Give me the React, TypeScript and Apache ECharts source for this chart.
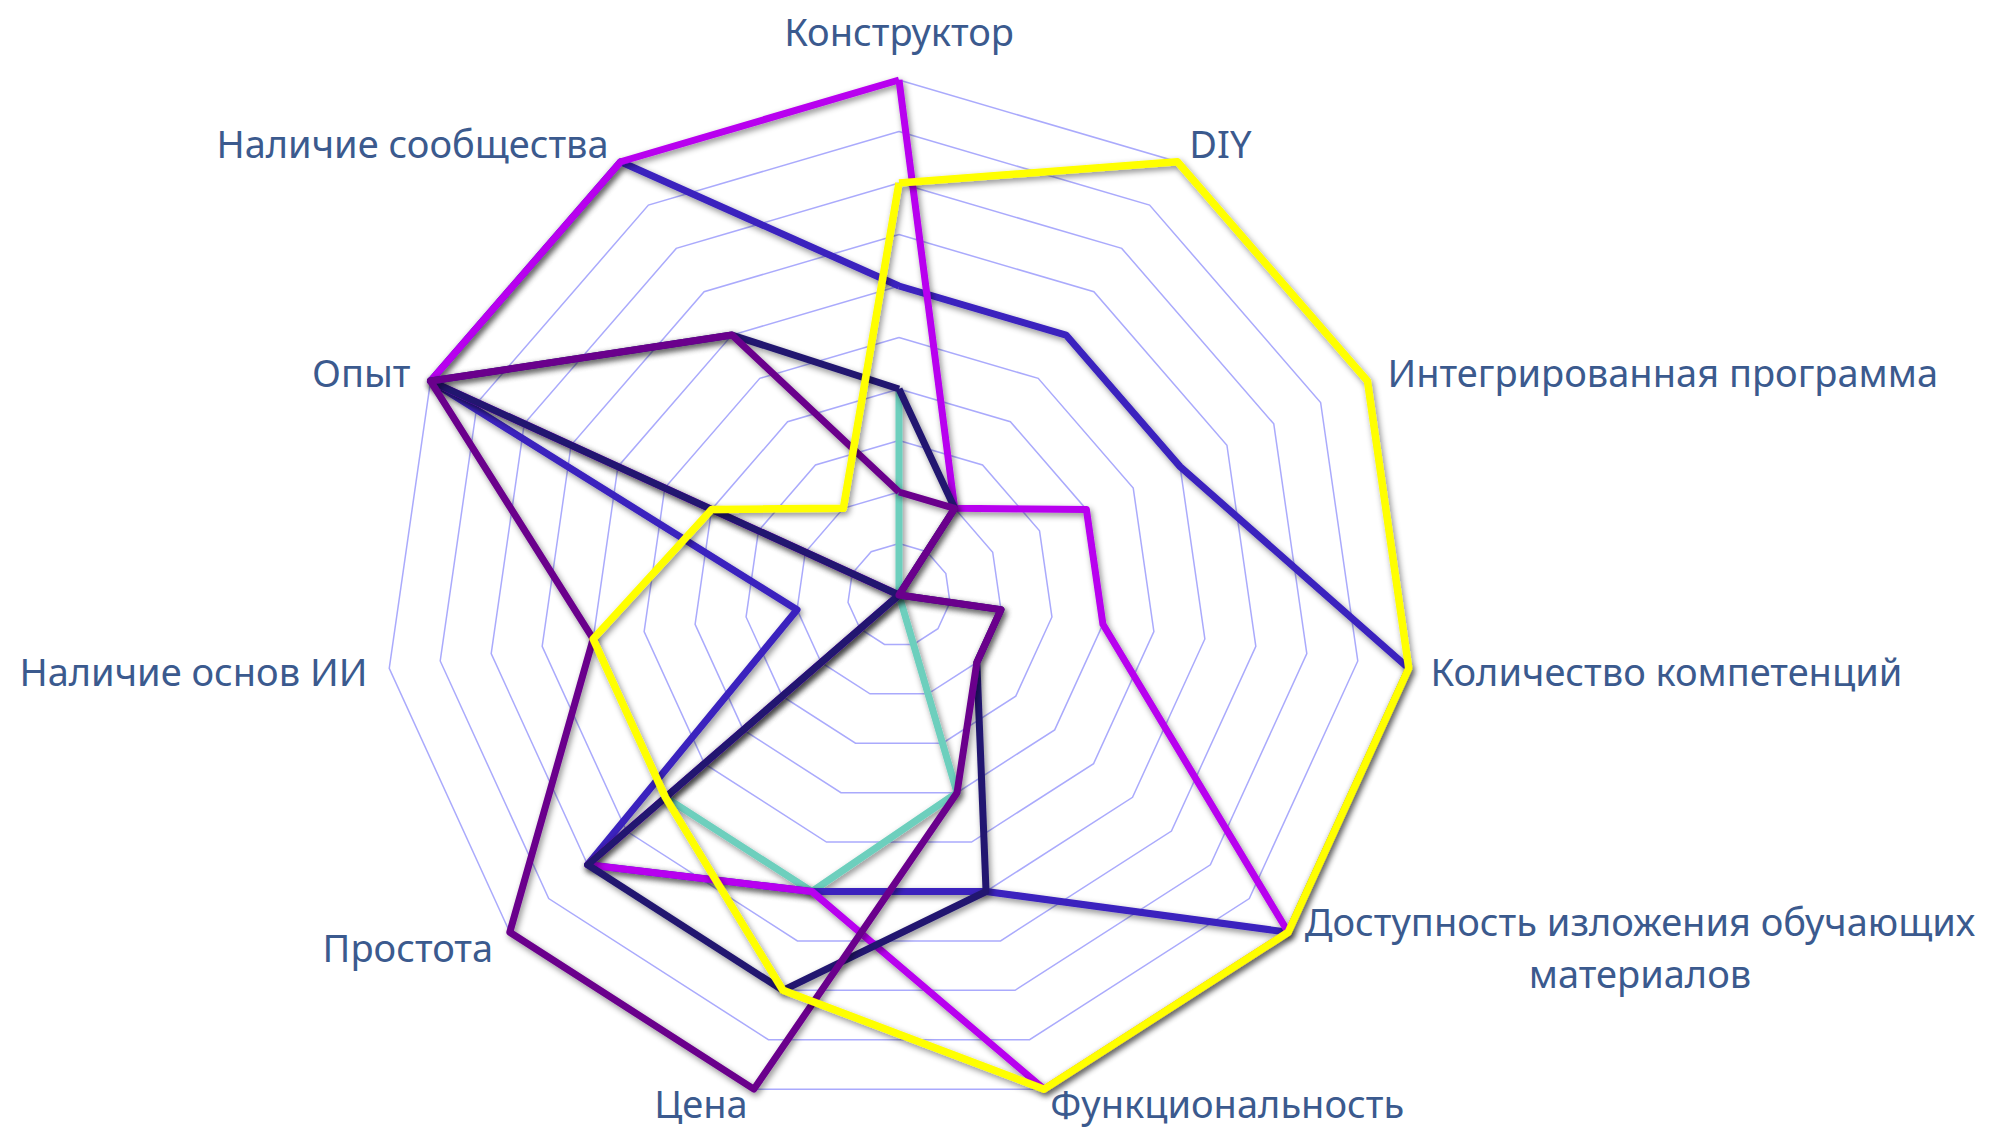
import React, { useEffect, useRef } from "react";
import * as echarts from "echarts";

// Indicators listed clockwise starting from the top (as seen in the picture)
const categories = [
  "Конструктор",
  "DIY",
  "Интегрированная программа",
  "Количество компетенций",
  "Доступность изложения обучающих\nматериалов",
  "Функциональность",
  "Цена",
  "Простота",
  "Наличие основ ИИ",
  "Опыт",
  "Наличие сообщества",
];

// Series values in the same clockwise order
const tealValues = [4, 0, 0, 0, 0, 4, 6, 6, 0, 0, 0];
const blueValues = [6, 6, 6, 10, 10, 6, 6, 8, 2, 10, 10];
const magentaValues = [10, 2, 4, 4, 10, 10, 6, 8, 0, 10, 10];
const navyValues = [4, 2, 0, 2, 2, 6, 8, 8, 0, 10, 6];
const purpleValues = [2, 2, 0, 2, 2, 4, 10, 10, 6, 10, 6];
const yellowValues = [8, 10, 10, 10, 10, 10, 8, 6, 6, 4, 2];

const seriesNames = ["A", "B", "C", "D", "E", "F"];
const seriesColors = ["#6dcfbd", "#3a21be", "#b800ef", "#21166f", "#6b008c", "#ffff00"];
const seriesValues = [tealValues, blueValues, magentaValues, navyValues, purpleValues, yellowValues];

const MAX = 10;

// ECharts places radar indicators counter-clockwise: reorder from the clockwise lists
const ccwOrder = categories.map((_, i) => (i === 0 ? 0 : categories.length - i));

export default function App() {
  const ref = useRef<HTMLDivElement>(null);

  useEffect(() => {
    if (!ref.current) return;
    const chart = echarts.init(ref.current, null, { renderer: "svg" });
    const labelColor = "#3b5a8e";
    const font = "Noto Sans";
    const option: any = {
      animation: false,
      backgroundColor: "#ffffff",
      radar: {
        center: [899, 595],
        radius: 515,
        startAngle: 90,
        splitNumber: 10,
        shape: "polygon",
        nameGap: 22,
        indicator: ccwOrder.map((i) => ({ name: categories[i], min: 0, max: MAX })),
        axisName: {
          color: labelColor,
          fontSize: 38,
          fontFamily: font,
          lineHeight: 46,
          formatter: (name: string) => {
            if (name.indexOf("\n") >= 0) {
              return name
                .split("\n")
                .map((l) => "{c|" + l + "}")
                .join("\n");
            }
            if (name === categories[0]) return "{t|" + name + "}";
            if (name === categories[5] || name === categories[6]) return "{b|" + name + "}";
            return name;
          },
          rich: {
            c: {
              align: "center",
              color: labelColor,
              fontSize: 38,
              fontFamily: font,
              lineHeight: 52,
            },
            t: {
              color: labelColor,
              fontSize: 38,
              fontFamily: font,
              lineHeight: 54,
            },
            b: {
              color: labelColor,
              fontSize: 38,
              fontFamily: font,
              lineHeight: 40,
              padding: [0, 0, 14, 0],
            },
          },
        },
        splitLine: { lineStyle: { color: "rgba(100,100,250,0.55)", width: 1.5 } },
        splitArea: { show: false },
        axisLine: { show: false },
        axisTick: { show: false },
        axisLabel: { show: false },
      },
      series: seriesValues.map((vals, k) => ({
        type: "radar",
        name: seriesNames[k],
        symbol: "none",
        z: 2 + k,
        lineStyle: {
          color: seriesColors[k],
          width: k === 5 ? 7.5 : 7,
          shadowColor: "rgba(0,0,0,0.45)",
          shadowBlur: 6,
          shadowOffsetX: 2,
          shadowOffsetY: 3,
        },
        itemStyle: { color: seriesColors[k] },
        data: [{ value: ccwOrder.map((i) => vals[i]), name: seriesNames[k] }],
      })),
    };
    chart.setOption(option);
    return () => chart.dispose();
  }, []);

  return (
    <div
      ref={ref}
      style={{ position: "absolute", left: 0, top: 0, width: "1993px", height: "1130px" }}
    />
  );
}
